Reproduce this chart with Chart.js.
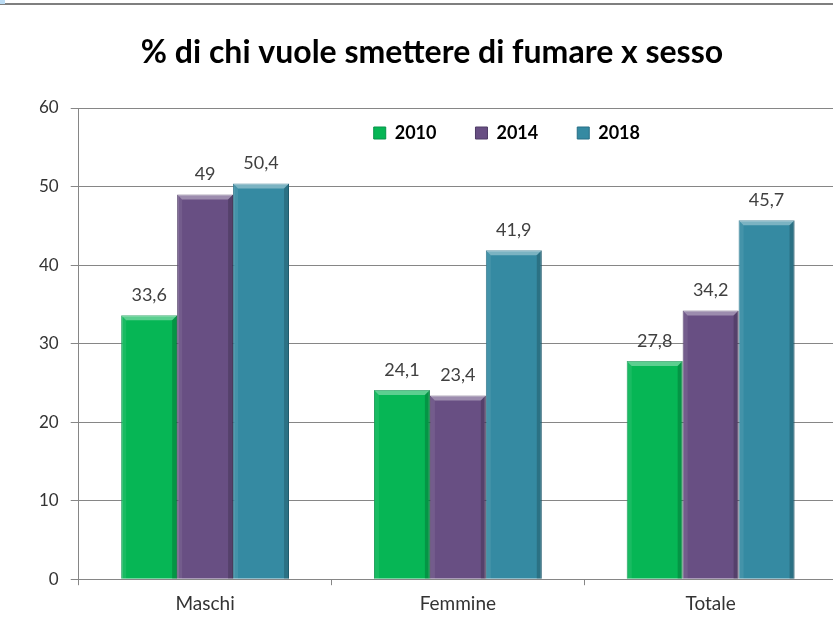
<!DOCTYPE html>
<html>
<head>
<meta charset="utf-8">
<script src="https://cdn.jsdelivr.net/npm/chart.js@4.4.1/dist/chart.umd.min.js"></script>
<style>
  html, body { margin: 0; padding: 0; background: #fff; overflow: hidden; }
  #wrap { position: relative; width: 868px; height: 628px; }
  #topline { position: absolute; left: 0; top: 3px; width: 833px; height: 2px; background: #7f7f7f; }
  #corner { position: absolute; left: 0; top: 0; width: 5px; height: 4px; background: #bcdcf4; }
</style>
</head>
<body>
<div id="wrap">
  <canvas id="barChart"></canvas>
  <div id="topline"></div>
  <div id="corner"></div>
</div>
<script>
const categories = ['Maschi', 'Femmine', 'Totale'];
const years = ['2010', '2014', '2018'];
const values2010 = [33.6, 24.1, 27.8];
const values2014 = [49, 23.4, 34.2];
const values2018 = [50.4, 41.9, 45.7];
const yTicks = [0, 10, 20, 30, 40, 50, 60];

const fills = ['#06b655', '#684f83', '#358aa2'];
const edges = ['#07934a', '#4f3c66', '#266f86'];

// numbers written with a comma, like the original
const fmt = (v) => String(v).replace('.', ',');

// excel-ish bevel on every bar, then the value above it
const valueLabels = {
    id: 'valueLabels',
    afterDatasetsDraw(chart) {
        const ctx = chart.ctx;
        ctx.save();
        chart.data.datasets.forEach((ds, i) => {
            chart.getDatasetMeta(i).data.forEach((bar) => {
                const l = bar.x - bar.width / 2, r = bar.x + bar.width / 2;
                const t = bar.y, b = bar.base, e = 5;
                ctx.fillStyle = 'rgba(255,255,255,0.35)';
                ctx.beginPath();
                ctx.moveTo(l, t); ctx.lineTo(r, t); ctx.lineTo(r - e, t + e); ctx.lineTo(l + e, t + e);
                ctx.closePath(); ctx.fill();
                ctx.fillStyle = 'rgba(255,255,255,0.08)';
                ctx.beginPath();
                ctx.moveTo(l, t); ctx.lineTo(l + e, t + e); ctx.lineTo(l + e, b); ctx.lineTo(l, b);
                ctx.closePath(); ctx.fill();
                ctx.fillStyle = 'rgba(0,0,0,0.18)';
                ctx.beginPath();
                ctx.moveTo(r, t); ctx.lineTo(r - e, t + e); ctx.lineTo(r - e, b); ctx.lineTo(r, b);
                ctx.closePath(); ctx.fill();
            });
        });
        ctx.font = '18px Lato';
        ctx.fillStyle = '#404040';
        ctx.textAlign = 'center';
        ctx.textBaseline = 'middle';
        chart.data.datasets.forEach((ds, i) => {
            chart.getDatasetMeta(i).data.forEach((bar, j) => {
                ctx.fillText(fmt(ds.data[j]), bar.x, bar.y - 20);
            });
        });
        ctx.restore();
    }
};

// legend sits inside the plot, right of centre
const legendInPlot = {
    id: 'legendInPlot',
    afterLayout(chart) {
        const lg = chart.legend;
        const ca = chart.chartArea;
        const pad = lg.options.labels.padding;
        const x0 = (lg.left + pad + lg.right - lg.lineWidths[0]) / 2;
        const dx = ca.left + 295 - x0;
        lg.left += dx;
        lg.right += dx;
        lg.top = ca.top + 25 - pad - 9;
        lg.bottom = lg.top + pad + 30;
        lg.height = lg.bottom - lg.top;
    }
};

const ctx = document.getElementById('barChart').getContext('2d');
const barChart = new Chart(ctx, {
    type: 'bar',
    data: {
        labels: categories,
        datasets: [
            { label: years[0], data: values2010, backgroundColor: fills[0], borderColor: edges[0], borderWidth: 1 },
            { label: years[1], data: values2014, backgroundColor: fills[1], borderColor: edges[1], borderWidth: 1 },
            { label: years[2], data: values2018, backgroundColor: fills[2], borderColor: edges[2], borderWidth: 1 }
        ]
    },
    options: {
        responsive: true,
        maintainAspectRatio: false,
        animation: false,
        datasets: {
            bar: { categoryPercentage: 0.664, barPercentage: 1 }
        },
        layout: {
            padding: { left: 27, right: 31, top: 0, bottom: 6 }
        },
        plugins: {
            title: {
                display: true,
                text: '% di chi vuole smettere di fumare x sesso',
                color: '#000',
                font: { family: 'Lato', size: 32, weight: 'bold' },
                padding: { top: 33.3, bottom: 35.3 }
            },
            legend: {
                position: 'top',
                maxHeight: 1,
                labels: {
                    color: '#000',
                    font: { family: 'Lato', size: 18, weight: 'bold' },
                    boxWidth: 12,
                    boxHeight: 12,
                    padding: 39
                }
            },
            tooltip: { enabled: false }
        },
        scales: {
            x: {
                grid: {
                    display: true,
                    drawOnChartArea: false,
                    drawTicks: true,
                    tickLength: 6,
                    color: '#868686'
                },
                border: { color: '#868686' },
                ticks: {
                    color: '#333',
                    padding: 7,
                    font: { family: 'Lato', size: 19 }
                }
            },
            y: {
                min: 0,
                max: 60,
                afterBuildTicks: (axis) => { axis.ticks = yTicks.map((v) => ({ value: v })); },
                grid: {
                    color: '#868686',
                    tickLength: 8
                },
                border: { color: '#868686' },
                ticks: {
                    color: '#333',
                    padding: 12,
                    font: { family: 'Lato', size: 17 }
                }
            }
        }
    },
    plugins: [valueLabels, legendInPlot]
});
</script>
</body>
</html>
